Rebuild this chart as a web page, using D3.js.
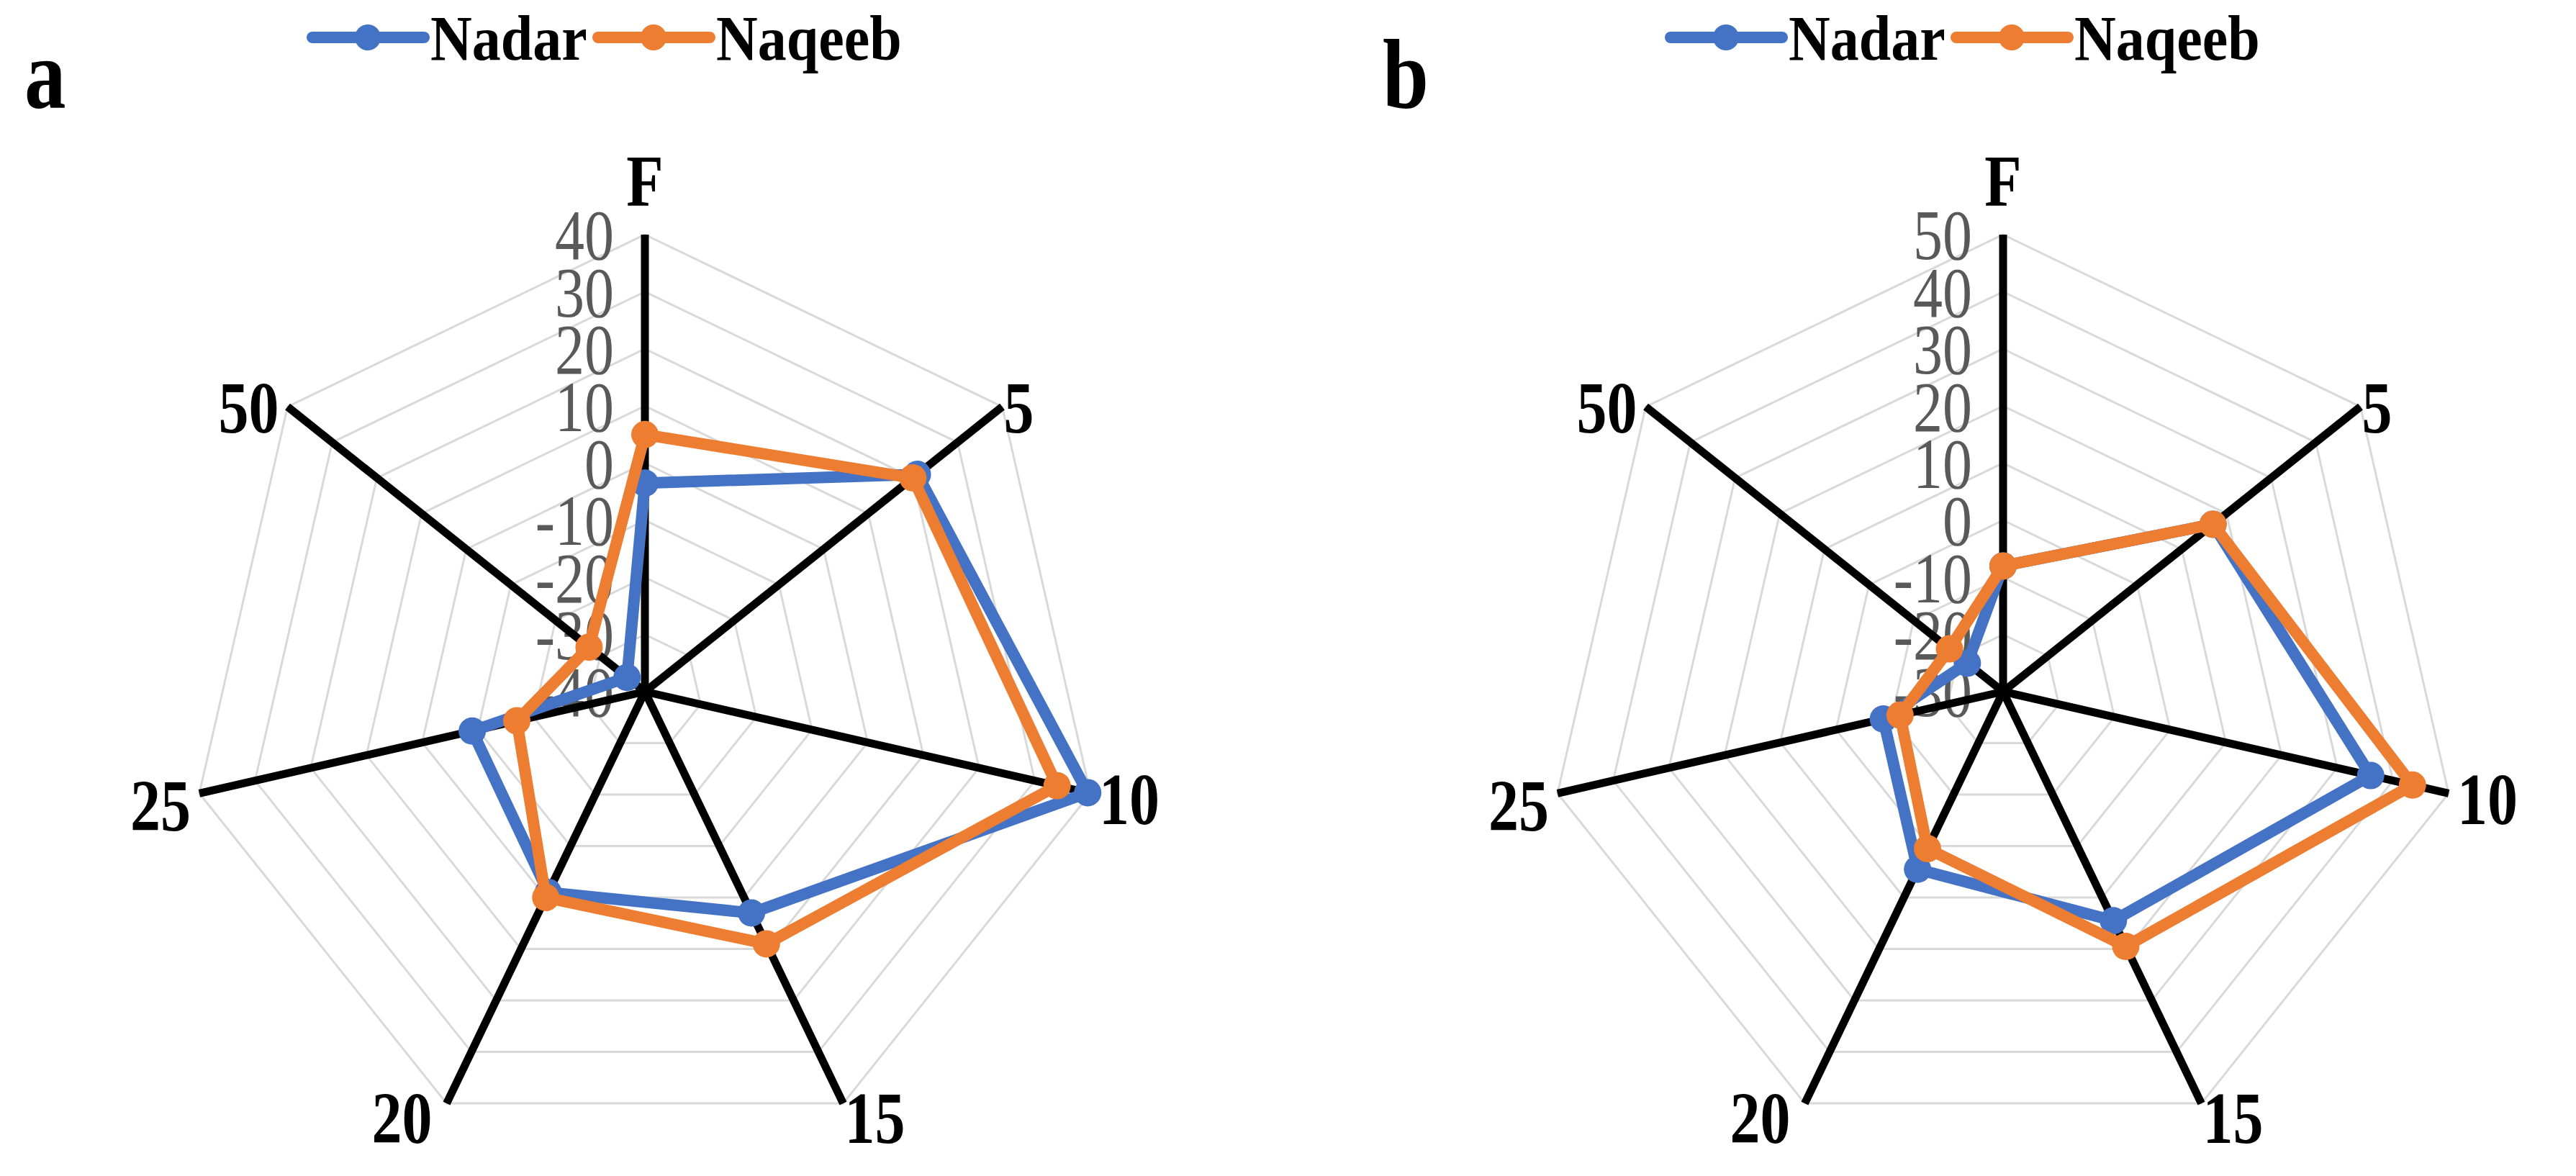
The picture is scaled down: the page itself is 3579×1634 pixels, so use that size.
<!DOCTYPE html>
<html>
<head>
<meta charset="utf-8">
<script src="https://cdn.jsdelivr.net/npm/d3@7/dist/d3.min.js"></script>
<style>
  html, body { margin: 0; padding: 0; background: #fff; }
  svg { display: block; }
</style>
</head>
<body>
<svg id="chart" width="3579" height="1634"></svg>
<script>
'use strict'

// data
const categories = ['F', '5', '10', '15', '20', '25', '50']
const seriesNames = ['Nadar', 'Naqeeb']
const ticksA = [-40, -30, -20, -10, 0, 10, 20, 30, 40]
const ticksB = [-30, -20, -10, 0, 10, 20, 30, 40, 50]
const nadarA = [-3.5, 21, 39.5, 3, -1, -9, -36]
const naqeebA = [5, 20, 34, 9, 0, -17, -27.5]
const nadarB = [-8, 17, 36, 14.5, 4.5, -8.5, -22]
const naqeebB = [-8, 17, 43.5, 19.5, 0.5, -11.5, -18]

const colors = ['#4472C4', '#ED7D31']
const font = '"Times New Roman", "Liberation Serif", serif'
const stretch = 1.2   // the source text looks taller than wide

const svg = d3.select('#chart')
const R = 635

const panels = [
    { letter: 'a', cx: 896, cy: 961, ticks: ticksA, series: [nadarA, naqeebA] },
    { letter: 'b', cx: 2783, cy: 961, ticks: ticksB, series: [nadarB, naqeebB] }
]

// nudges for category labels, relative to the spoke end
const labelNudge = [
    { dx: 0, dy: -75, anchor: 'middle' },
    { dx: 2, dy: 1, anchor: 'start' },
    { dx: 12, dy: 7, anchor: 'start' },
    { dx: 44, dy: 20, anchor: 'middle' },
    { dx: -62, dy: 20, anchor: 'middle' },
    { dx: -12, dy: 16, anchor: 'end' },
    { dx: -12, dy: 1, anchor: 'end' }
]

let place = (x, y, k) => `translate(${x}, ${y}) scale(1, ${k || stretch})`

panels.forEach(p => {
    let g = svg.append('g').attr('transform', `translate(${p.cx}, ${p.cy})`)

    let r = d3.scaleLinear().domain(d3.extent(p.ticks)).range([0, R])
    let angle = d3.scaleLinear().domain([0, categories.length]).range([0, 2 * Math.PI])
    let pt = (i, v) => [r(v) * Math.sin(angle(i)), -r(v) * Math.cos(angle(i))]
    let closed = d3.line().curve(d3.curveLinearClosed)
    let top = r.domain()[1]

    // grid rings
    g.append('g')
        .selectAll('path')
        .data(p.ticks.slice(1))
        .enter()
        .append('path')
        .attr('d', t => closed(categories.map((c, i) => pt(i, t))))
        .attr('fill', 'none')
        .attr('stroke', '#d9d9d9')
        .attr('stroke-width', 3)

    // tick labels
    g.append('g')
        .selectAll('text')
        .data(p.ticks)
        .enter()
        .append('text')
        .attr('transform', t => place(-43, -r(t)))
        .attr('dy', '0.35em')
        .attr('text-anchor', 'end')
        .attr('font-family', font)
        .attr('font-size', 82)
        .attr('fill', '#595959')
        .text(t => t)

    // spokes
    g.append('g')
        .selectAll('line')
        .data(categories)
        .enter()
        .append('line')
        .attr('x1', 0)
        .attr('y1', 0)
        .attr('x2', (c, i) => pt(i, top)[0])
        .attr('y2', (c, i) => pt(i, top)[1])
        .attr('stroke', '#000')
        .attr('stroke-width', 11)

    // category labels
    g.append('g')
        .selectAll('text')
        .data(categories)
        .enter()
        .append('text')
        .attr('transform', (c, i) => place(pt(i, top)[0] + labelNudge[i].dx, pt(i, top)[1] + labelNudge[i].dy))
        .attr('dy', '0.35em')
        .attr('text-anchor', (c, i) => labelNudge[i].anchor)
        .attr('font-family', font)
        .attr('font-weight', 'bold')
        .attr('font-size', 84)
        .attr('fill', '#000')
        .text(c => c)

    // series
    p.series.forEach((values, s) => {
        let pts = values.map((v, i) => pt(i, v))
        g.append('path')
            .attr('d', closed(pts))
            .attr('fill', 'none')
            .attr('stroke', colors[s])
            .attr('stroke-width', 16)
            .attr('stroke-linejoin', 'round')

        g.append('g')
            .selectAll('circle')
            .data(pts)
            .enter()
            .append('circle')
            .attr('cx', d => d[0])
            .attr('cy', d => d[1])
            .attr('r', 19)
            .attr('fill', colors[s])
    })

    // panel letter
    svg.append('text')
        .attr('transform', place(p.cx - 862, 150))
        .attr('font-family', font)
        .attr('font-weight', 'bold')
        .attr('font-size', 115)
        .text(p.letter)

    // legend
    let lg = svg.append('g').attr('transform', `translate(${p.cx - 462}, 52)`)
    let item = lg.selectAll('g')
        .data(seriesNames)
        .enter()
        .append('g')
        .attr('transform', (d, i) => `translate(${i * 397}, 0)`)

    item.append('line')
        .attr('x1', 0)
        .attr('x2', 155)
        .attr('stroke', (d, i) => colors[i])
        .attr('stroke-width', 16)
        .attr('stroke-linecap', 'round')

    item.append('circle')
        .attr('cx', 77)
        .attr('r', 18)
        .attr('fill', (d, i) => colors[i])

    item.append('text')
        .attr('transform', place(164, 0, 1.12))
        .attr('dy', '0.35em')
        .attr('font-family', font)
        .attr('font-weight', 'bold')
        .attr('font-size', 80)
        .text(d => d)
})
</script>
</body>
</html>
